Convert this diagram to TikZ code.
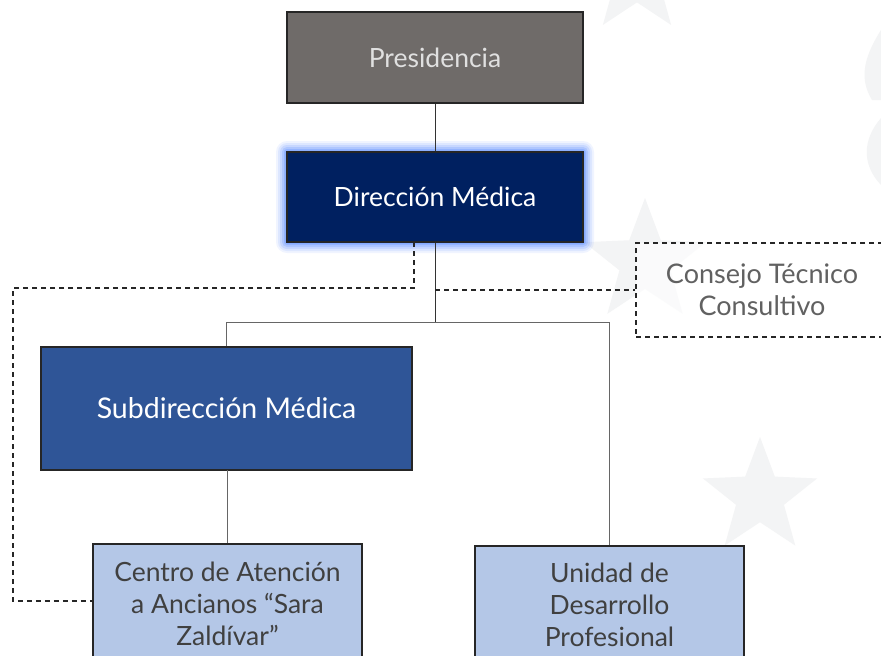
\documentclass[tikz,border=0pt]{standalone}
\usepackage{fontspec}
\setmainfont{Lato}
\usetikzlibrary{calc}
\definecolor{presfill}{HTML}{6F6B69}
\definecolor{navy}{HTML}{002060}
\definecolor{midblue}{HTML}{2F5597}
\definecolor{lightblue}{HTML}{B4C7E7}
\definecolor{glow}{HTML}{6F9BFF}
\definecolor{starc}{HTML}{F3F4F5}
\definecolor{boxline}{HTML}{262626}
\definecolor{darktext}{HTML}{404040}
\tikzset{
  box/.style={draw=boxline, line width=1.3pt, rectangle, align=center, inner sep=0pt},
  treeline/.style={draw=black!60, line width=0.9pt},
  dashline/.style={draw=black!85, line width=1.6pt, dash pattern=on 5pt off 4pt}
}
\newcommand{\bgstar}[3]{% x y r
  \fill[starc] ($(#1,#2)+(-90:#3)$)
    \foreach \k in {1,...,9}{ -- ($(#1,#2)+({-90+36*\k}:{ifthenelse(mod(\k,2)==1,0.42*#3,#3)})$) } -- cycle;}
\begin{document}
\begin{tikzpicture}[x=1pt,y=-1pt]
\useasboundingbox (0,0) rectangle (881,656);
\clip (0,0) rectangle (881,656);
\fill[white] (0,0) rectangle (881,656);
% background stars
\bgstar{760}{497}{60}
\bgstar{645}{262}{64}
\bgstar{637}{-22}{58}
\fill[starc] (881,30) .. controls (862,60) and (860,80) .. (872,100) -- (881,100) -- cycle;
\fill[starc] (881,118) .. controls (862,140) and (862,165) .. (881,185) -- cycle;
% glow
\foreach \g/\o in {11/0.10,9/0.14,7/0.2,5/0.28,3/0.4,1.5/0.55}{
  \fill[glow, opacity=\o, rounded corners=\g pt] (287-\g,152-\g) rectangle (583+\g,242+\g);
}
% nodes
\node[box, fill=presfill, minimum width=296pt, minimum height=91pt, text=black!12, font=\fontsize{26.5}{30}\selectfont] (pres) at (435,57.5) {Presidencia};
\node[box, fill=navy, minimum width=296pt, minimum height=90pt, text=white, font=\fontsize{26.5}{30}\selectfont] (dir) at (435,197) {Dirección Médica};
\node[box, fill=midblue, minimum width=371pt, minimum height=123pt, text=white, font=\fontsize{28.5}{32}\selectfont] (sub) at (226.5,408.5) {Subdirección Médica};
\node[box, fill=lightblue, minimum width=269pt, minimum height=120pt, text=darktext, font=\fontsize{26.5}{32}\selectfont] (cen) at (227.5,604) {Centro de Atención\\a Ancianos “Sara\\Zaldívar”};
\node[box, fill=lightblue, minimum width=269pt, minimum height=118pt, text=darktext, font=\fontsize{26.5}{32}\selectfont] (uni) at (609.5,605) {Unidad de\\Desarrollo\\Profesional};
\node[rectangle, dashline, fill=white, fill opacity=0.6, text opacity=1, minimum width=252pt, minimum height=94pt, align=center, inner sep=0pt, text=black!62, font=\fontsize{27}{32}\selectfont] (con) at (762,290) {Consejo Técnico\\Consultivo};
% tree connectors
\coordinate (bar) at (435,322);
\draw[draw=black!80, line width=0.9pt] (pres.south) -- (dir.north);
\draw[draw=black!80, line width=0.9pt] (dir.south) -- (bar);
\draw[treeline] (sub.north) -- (sub.north |- bar) -- (uni.north |- bar) -- (uni.north);
\draw[treeline] (sub.south) -- (sub.south -| cen.north) -- (cen.north);
% dashed links
\coordinate (d1) at (414,242);
\coordinate (d2) at (13,288);
\coordinate (d3) at (13,601);
\draw[dashline] (d1) |- (d2) -- (d3) -- (d3 -| cen.west);
\coordinate (t1) at (dir.south |- con.west);
\draw[dashline] (t1) -- (con.west);
\end{tikzpicture}
\end{document}
